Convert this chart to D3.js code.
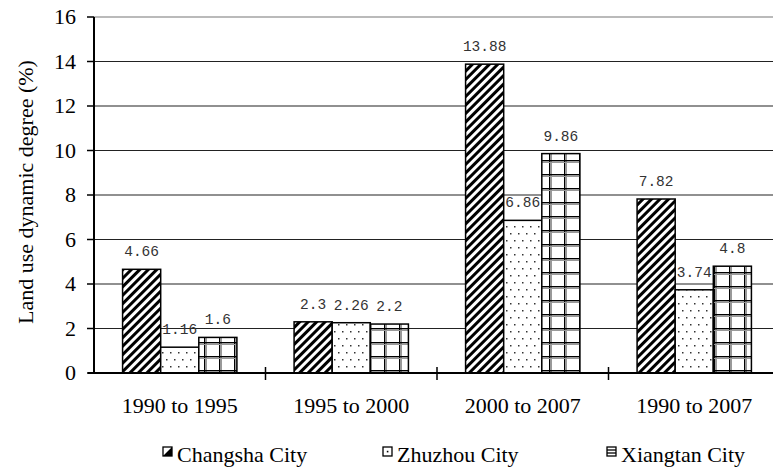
<!DOCTYPE html>
<html>
<head>
<meta charset="utf-8">
<script src="https://cdn.jsdelivr.net/npm/d3@7"></script>
<style>
  body { margin: 0; background: #fff; }
</style>
</head>
<body>
<script>
        /* DATA */
        var periods = ["1990 to 1995", "1995 to 2000", "2000 to 2007", "1990 to 2007"];
        var cities = ["Changsha City", "Zhuzhou City", "Xiangtan City"];
        var changsha = [4.66, 2.3, 13.88, 7.82];
        var zhuzhou = [1.16, 2.26, 6.86, 3.74];
        var xiangtan = [1.6, 2.2, 9.86, 4.8];
        var yTicks = [0, 2, 4, 6, 8, 10, 12, 14, 16];

        var seriesValues = [changsha, zhuzhou, xiangtan];

        var serif = "'Liberation Serif', 'Times New Roman', serif";
        var mono = "'Liberation Mono', 'DejaVu Sans Mono', monospace";

        /* DIMENSIONS AND SVG */
        var width = 773;
        var height = 467;

        var svg = d3.select("body")
            .append("svg")
            .attr("width", width)
            .attr("height", height);

        svg.append("rect")
            .attr("width", width)
            .attr("height", height)
            .attr("fill", "white");

        // scales - the plot runs off the right side of the picture, like the original
        var y = d3.scaleLinear().domain([0, 16]).range([373, 17]);
        var x0 = d3.scaleBand().domain(periods).range([94, 780]).padding(0);
        var bw = x0.bandwidth();
        var x1 = d3.scaleBand().domain(cities).range([bw / 6, bw * 5 / 6]).padding(0);

        /* PATTERNS */
        var defs = svg.append("defs");

        var stripe = defs.append("pattern")
            .attr("id", "stripe")
            .attr("patternUnits", "userSpaceOnUse")
            .attr("width", 6)
            .attr("height", 6)
            .attr("patternTransform", "rotate(45)");
        stripe.append("rect").attr("width", 6).attr("height", 6).attr("fill", "white");
        stripe.append("rect").attr("width", 3).attr("height", 6).attr("fill", "black");

        var dots = defs.append("pattern")
            .attr("id", "dots")
            .attr("patternUnits", "userSpaceOnUse")
            .attr("width", 8)
            .attr("height", 14);
        dots.append("rect").attr("width", 8).attr("height", 14).attr("fill", "white");
        dots.append("rect").attr("x", 2).attr("y", 2).attr("width", 1.5).attr("height", 1.5).attr("fill", "#333");
        dots.append("rect").attr("x", 6).attr("y", 9).attr("width", 1.5).attr("height", 1.5).attr("fill", "#333");

        var grid = defs.append("pattern")
            .attr("id", "grid")
            .attr("patternUnits", "userSpaceOnUse")
            .attr("width", 15)
            .attr("height", 14);
        grid.append("rect").attr("width", 15).attr("height", 14).attr("fill", "white");
        grid.append("rect").attr("x", 9).attr("y", 0).attr("width", 1.4).attr("height", 14).attr("fill", "black");
        grid.append("rect").attr("x", 11).attr("y", 0).attr("width", 1).attr("height", 14).attr("fill", "#999");
        grid.append("rect").attr("x", 0).attr("y", 6).attr("width", 15).attr("height", 1.4).attr("fill", "black");
        grid.append("rect").attr("x", 0).attr("y", 8).attr("width", 15).attr("height", 1).attr("fill", "#999");

        var fills = ["url(#stripe)", "url(#dots)", "url(#grid)"];

        /* GRIDLINES */
        svg.selectAll(".gridline")
            .data(yTicks.filter(function(d) { return d > 0; }))
            .enter()
            .append("line")
            .attr("x1", 94)
            .attr("x2", width)
            .attr("y1", function(d) { return y(d); })
            .attr("y2", function(d) { return y(d); })
            .attr("stroke", function(d) { return d == 16 ? "#777" : "#222"; })
            .attr("stroke-width", 1.2);

        /* BARS */
        var rows = [];
        periods.forEach(function(p, i) {
            cities.forEach(function(c, j) {
                rows.push({period: p, city: c, value: seriesValues[j][i], fill: fills[j]});
            });
        });

        svg.selectAll(".bar")
            .data(rows)
            .enter()
            .append("rect")
            .attr("x", function(d) { return x0(d.period) + x1(d.city); })
            .attr("y", function(d) { return y(d.value); })
            .attr("width", x1.bandwidth())
            .attr("height", function(d) { return y(0) - y(d.value); })
            .attr("fill", function(d) { return d.fill; })
            .attr("stroke", "black")
            .attr("stroke-width", 1.5);

        // value labels
        svg.selectAll(".vlabel")
            .data(rows)
            .enter()
            .append("text")
            .attr("x", function(d) { return x0(d.period) + x1(d.city) + x1.bandwidth() / 2; })
            .attr("y", function(d) { return y(d.value) - 13; })
            .attr("text-anchor", "middle")
            .attr("font-family", mono)
            .attr("font-size", "14.5px")
            .attr("fill", "#333")
            .text(function(d) { return d.value; });

        /* AXES */
        // y axis
        svg.append("line")
            .attr("x1", 94).attr("x2", 94)
            .attr("y1", y(16)).attr("y2", y(0))
            .attr("stroke", "black").attr("stroke-width", 2);

        svg.selectAll(".ytick")
            .data(yTicks)
            .enter()
            .append("line")
            .attr("x1", 87).attr("x2", 94)
            .attr("y1", function(d) { return y(d); })
            .attr("y2", function(d) { return y(d); })
            .attr("stroke", "black").attr("stroke-width", 1.5);

        svg.selectAll(".ylabel")
            .data(yTicks)
            .enter()
            .append("text")
            .attr("x", 76)
            .attr("y", function(d) { return y(d); })
            .attr("dy", "0.33em")
            .attr("text-anchor", "end")
            .attr("font-family", serif)
            .attr("font-size", "22px")
            .text(function(d) { return d; });

        // x axis
        svg.append("line")
            .attr("x1", 88).attr("x2", width)
            .attr("y1", y(0)).attr("y2", y(0))
            .attr("stroke", "black").attr("stroke-width", 2);

        svg.selectAll(".xtick")
            .data(periods.slice(1))
            .enter()
            .append("line")
            .attr("x1", function(d) { return x0(d); })
            .attr("x2", function(d) { return x0(d); })
            .attr("y1", y(0) - 6).attr("y2", y(0) + 7)
            .attr("stroke", "black").attr("stroke-width", 1.5);

        svg.selectAll(".xlabel")
            .data(periods)
            .enter()
            .append("text")
            .attr("x", function(d) { return x0(d) + bw / 2; })
            .attr("y", 413)
            .attr("text-anchor", "middle")
            .attr("font-family", serif)
            .attr("font-size", "22px")
            .text(function(d) { return d; });

        // y title
        svg.append("text")
            .attr("transform", "translate(33,192) rotate(-90)")
            .attr("text-anchor", "middle")
            .attr("font-family", serif)
            .attr("font-size", "22px")
            .text("Land use dynamic degree (%)");

        /* LEGEND */
        var legendX = [163, 383, 607];
        var legend = svg.selectAll(".legend")
            .data(cities)
            .enter()
            .append("g")
            .attr("transform", function(d, i) { return "translate(" + legendX[i] + ",447)"; });

        legend.append("rect")
            .attr("width", 9).attr("height", 9)
            .attr("fill", "white")
            .attr("stroke", "black").attr("stroke-width", 1.3);

        // little marks inside the legend boxes
        legend.filter(function(d, i) { return i == 0; })
            .append("path")
            .attr("d", "M0,9 L9,0 L9,9 Z")
            .attr("fill", "black");
        legend.filter(function(d, i) { return i == 1; })
            .append("rect")
            .attr("x", 3.8).attr("y", 3.8).attr("width", 1.6).attr("height", 1.6)
            .attr("fill", "black");
        legend.filter(function(d, i) { return i == 2; })
            .selectAll("line")
            .data([3, 6])
            .enter()
            .append("line")
            .attr("x1", 0).attr("x2", 9)
            .attr("y1", function(d) { return d; })
            .attr("y2", function(d) { return d; })
            .attr("stroke", "black").attr("stroke-width", 1.3);

        legend.append("text")
            .attr("x", 14)
            .attr("y", 14.5)
            .attr("font-family", serif)
            .attr("font-size", "22px")
            .text(function(d) { return d; });
</script>
</body>
</html>
